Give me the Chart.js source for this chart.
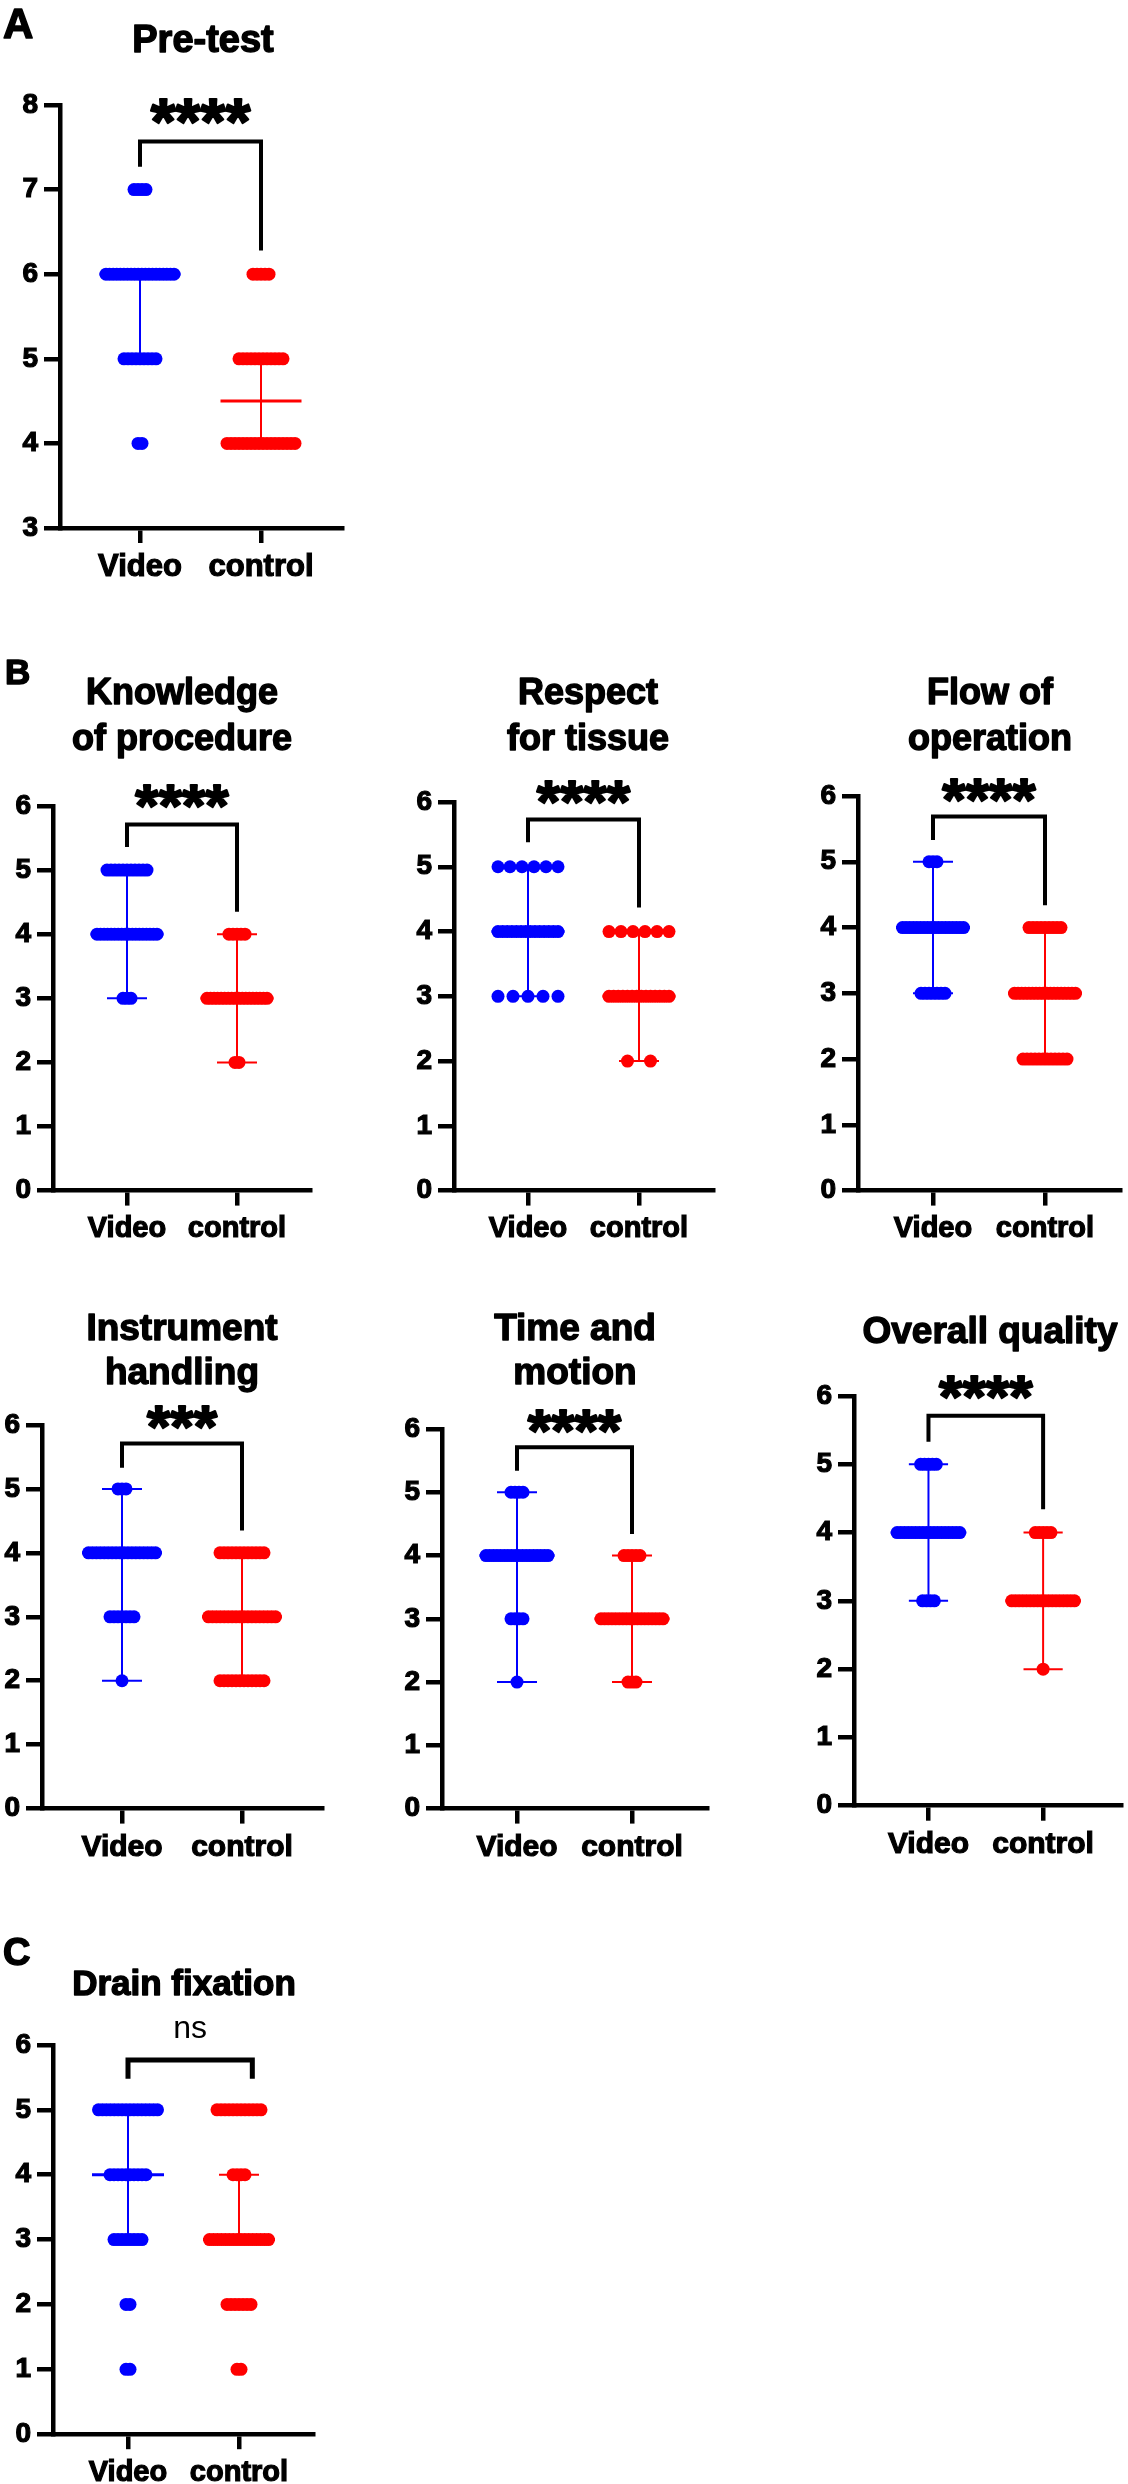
<!DOCTYPE html>
<html>
<head>
<meta charset="utf-8">
<script src="https://cdn.jsdelivr.net/npm/chart.js@4.4.0/dist/chart.umd.min.js"></script>
<style>
  html, body { margin: 0; padding: 0; background: #fff; }
  body { position: relative; width: 1128px; height: 2484px; overflow: hidden; }
  canvas { position: absolute; }
</style>
</head>
<body>
<script>
const categories = ['Video', 'control'];

// number of participants at each score (array index = score)
const preTestVideo        = [0, 0, 0, 0, 2, 9, 20, 4, 0];
const preTestControl      = [0, 0, 0, 0, 18, 12, 5, 0, 0];
const knowledgeVideo      = [0, 0, 0, 3, 18, 11, 0];
const knowledgeControl    = [0, 0, 2, 18, 5, 0, 0];
const respectVideo        = [0, 0, 0, 5, 14, 6, 0];
const respectControl      = [0, 0, 2, 14, 6, 0, 0];
const flowVideo           = [0, 0, 0, 7, 18, 3, 0];
const flowControl         = [0, 0, 12, 18, 9, 0, 0];
const instrumentVideo     = [0, 0, 1, 7, 18, 3, 0];
const instrumentControl   = [0, 0, 12, 18, 12, 0, 0];
const timeMotionVideo     = [0, 0, 1, 4, 18, 4, 0];
const timeMotionControl   = [0, 0, 3, 18, 5, 0, 0];
const overallVideo        = [0, 0, 0, 4, 18, 5, 0];
const overallControl      = [0, 0, 1, 18, 5, 0, 0];
const drainVideo          = [0, 2, 2, 8, 10, 16, 0];
const drainControl        = [0, 2, 7, 16, 4, 12, 0];

// [lower quartile, median, upper quartile]
const preTestVideoStats      = [5, 6, 6];
const preTestControlStats    = [4, 4.5, 5];
const knowledgeVideoStats    = [3, 4, 5];
const knowledgeControlStats  = [2, 3, 4];
const respectVideoStats      = [3, 4, 5];
const respectControlStats    = [2, 3, 4];
const flowVideoStats         = [3, 4, 5];
const flowControlStats       = [2, 3, 4];
const instrumentVideoStats   = [2, 4, 5];
const instrumentControlStats = [2, 3, 4];
const timeMotionVideoStats   = [2, 4, 5];
const timeMotionControlStats = [2, 3, 4];
const overallVideoStats      = [3, 4, 5];
const overallControlStats    = [2, 3, 4];
const drainVideoStats        = [3, 4, 5];
const drainControlStats      = [3, 3, 4];

const FONT = "'Liberation Sans', Arial, Helvetica, sans-serif";
const BLUE = '#0000ff';
const RED = '#ff0000';
const DOT_R = 6.5;
const AXIS_W = 4.5;

// page layout of every panel (pixels), bracket heights in score units
const panels = [
  { box: [0, 0, 380, 600], axisX: 60, axisRight: 342, yTop: 105, yBot: 528, cats: [140, 261],
    yMin: 3, yMax: 8, rowWidth: 81, step: 4, labelSize: 31,
    letter: { text: 'A', x: 3, y: 38, size: 42 },
    title: ['Pre-test'], titleX: 203, titleY: [52], titleSize: 38,
    video: preTestVideo, control: preTestControl, videoStats: preTestVideoStats, controlStats: preTestControlStats,
    sig: '****', sigSize: 64, sigGap: 30, bracket: [7.57, 7.27, 6.28], bracketX: [0, 1], bracketW: 4 },
  { box: [0, 620, 370, 640], axisX: 53, axisRight: 310, yTop: 806, yBot: 1190.6, cats: [127, 237],
    yMin: 0, yMax: 6, rowWidth: 73, step: 4, labelSize: 29,
    letter: { text: 'B', x: 5, y: 684, size: 35 },
    title: ['Knowledge', 'of procedure'], titleX: 182, titleY: [704, 750], titleSize: 36,
    video: knowledgeVideo, control: knowledgeControl, videoStats: knowledgeVideoStats, controlStats: knowledgeControlStats,
    sig: '****', sigSize: 60, sigGap: 28, bracket: [5.71, 5.36, 4.35], bracketX: [0, 1], bracketW: 4 },
  { box: [380, 620, 360, 640], axisX: 454, axisRight: 713, yTop: 802, yBot: 1190.6, cats: [528, 639],
    yMin: 0, yMax: 6, rowWidth: 73, step: 23, labelSize: 29,
    title: ['Respect', 'for tissue'], titleX: 588, titleY: [704, 750], titleSize: 36,
    video: respectVideo, control: respectControl, videoStats: respectVideoStats, controlStats: respectControlStats,
    sig: '****', sigSize: 60, sigGap: 27, bracket: [5.73, 5.38, 4.37], bracketX: [0, 1], bracketW: 4 },
  { box: [750, 620, 378, 640], axisX: 858, axisRight: 1120, yTop: 796, yBot: 1190.6, cats: [933, 1045],
    yMin: 0, yMax: 6, rowWidth: 74, step: 4, labelSize: 29,
    title: ['Flow of', 'operation'], titleX: 990, titleY: [704, 750], titleSize: 36,
    video: flowVideo, control: flowControl, videoStats: flowVideoStats, controlStats: flowControlStats,
    sig: '****', sigSize: 60, sigGap: 26, bracket: [5.69, 5.33, 4.34], bracketX: [0, 1], bracketW: 4 },
  { box: [-10, 1270, 360, 620], axisX: 42, axisRight: 322, yTop: 1425, yBot: 1808.6, cats: [122, 242],
    yMin: 0, yMax: 6, rowWidth: 80, step: 4, labelSize: 30,
    title: ['Instrument', 'handling'], titleX: 182, titleY: [1340, 1384], titleSize: 37,
    video: instrumentVideo, control: instrumentControl, videoStats: instrumentVideoStats, controlStats: instrumentControlStats,
    sig: '***', sigSize: 60, sigGap: 26, bracket: [5.71, 5.33, 4.35], bracketX: [0, 1], bracketW: 4 },
  { box: [370, 1270, 370, 620], axisX: 442, axisRight: 707, yTop: 1429, yBot: 1808.6, cats: [517, 632],
    yMin: 0, yMax: 6, rowWidth: 75, step: 4, labelSize: 30,
    title: ['Time and', 'motion'], titleX: 575, titleY: [1340, 1384], titleSize: 37,
    video: timeMotionVideo, control: timeMotionControl, videoStats: timeMotionVideoStats, controlStats: timeMotionControlStats,
    sig: '****', sigSize: 60, sigGap: 26, bracket: [5.71, 5.34, 4.34], bracketX: [0, 1], bracketW: 4 },
  { box: [750, 1270, 378, 620], axisX: 854, axisRight: 1127, yTop: 1396, yBot: 1805.7, cats: [930, 1047],
    yMin: 0, yMax: 6, rowWidth: 77, step: 4, labelSize: 30,
    title: ['Overall quality'], titleX: 990, titleY: [1343], titleSize: 37,
    video: overallVideo, control: overallControl, videoStats: overallVideoStats, controlStats: overallControlStats,
    sig: '****', sigSize: 60, sigGap: 28, bracket: [5.71, 5.33, 4.34], bracketX: [0, 1], bracketW: 4 },
  { box: [0, 1900, 360, 584], axisX: 53, axisRight: 313, yTop: 2045, yBot: 2434.2, cats: [128, 239],
    yMin: 0, yMax: 6, rowWidth: 72, step: 4, labelSize: 29,
    letter: { text: 'C', x: 3, y: 1965, size: 38 },
    title: ['Drain fixation'], titleX: 184, titleY: [1995], titleSize: 35,
    video: drainVideo, control: drainControl, videoStats: drainVideoStats, controlStats: drainControlStats,
    sig: 'ns', sigSize: 32, sigGap: 30, bracket: [5.77, 5.48, 5.48], bracketX: [0, 1.12], bracketW: 5 }
];

// spread the dots of one score side by side, like a scatter dot plot
function dotData(counts, cat, p) {
  const ppu = p.cats[1] - p.cats[0];
  const maxSpan = p.rowWidth - 2 * DOT_R;
  const pts = [];
  counts.forEach((n, score) => {
    if (!n) return;
    const span = Math.min((n - 1) * p.step, maxSpan);
    for (let k = 0; k < n; k++) {
      const off = n > 1 ? -span / 2 + k * span / (n - 1) : 0;
      pts.push({ x: cat + off / ppu, y: score });
    }
  });
  return pts;
}

function lineSet(pts, color, width, order) {
  return {
    data: pts, showLine: true, borderColor: color, borderWidth: width, pointRadius: 0,
    tension: 0, order: order, clip: false, borderCapStyle: 'butt', borderJoinStyle: 'miter'
  };
}

// median line + interquartile whisker with caps
function rangeSets(stats, cat, color, p) {
  const ppu = p.cats[1] - p.cats[0];
  const capHalf = 20 / ppu;
  const medHalf = p.rowWidth / 2 / ppu;
  const [lo, med, hi] = stats;
  return [
    lineSet([{ x: cat, y: lo }, { x: cat, y: hi }], color, 2, 1),
    lineSet([{ x: cat - capHalf, y: lo }, { x: cat + capHalf, y: lo }], color, 2, 1),
    lineSet([{ x: cat - capHalf, y: hi }, { x: cat + capHalf, y: hi }], color, 2, 1),
    lineSet([{ x: cat - medHalf, y: med }, { x: cat + medHalf, y: med }], color, 3, 1)
  ];
}

// heavy text: fill plus a thin stroke of the same colour
function heavyText(ctx, text, x, y, stroke) {
  if (stroke) {
    ctx.lineWidth = stroke;
    ctx.lineJoin = 'round';
    ctx.strokeText(text, x, y);
  }
  ctx.fillText(text, x, y);
}

function textPlugin(p) {
  return {
    id: 'panelText',
    afterDraw(chart) {
      const ctx = chart.ctx;
      const ox = p.box[0], oy = p.box[1];
      ctx.save();
      ctx.fillStyle = '#000';
      ctx.strokeStyle = '#000';
      ctx.textBaseline = 'alphabetic';
      if (p.letter) {
        ctx.textAlign = 'left';
        ctx.font = `bold ${p.letter.size}px ${FONT}`;
        heavyText(ctx, p.letter.text, p.letter.x - ox, p.letter.y - oy, 1.5);
      }
      ctx.textAlign = 'center';
      ctx.font = `bold ${p.titleSize}px ${FONT}`;
      p.title.forEach((line, i) => heavyText(ctx, line, p.titleX - ox, p.titleY[i] - oy, 1.4));

      // significance text sits above the bracket
      const xs = chart.scales.x, ys = chart.scales.y;
      const cx = (xs.getPixelForValue(p.bracketX[0]) + xs.getPixelForValue(p.bracketX[1])) / 2;
      const cy = ys.getPixelForValue(p.bracket[0]) - p.sigGap;
      const isNs = p.sig === 'ns';
      ctx.font = isNs ? `${p.sigSize}px ${FONT}` : `bold ${p.sigSize}px ${FONT}`;
      const m = ctx.measureText(p.sig);
      heavyText(ctx, p.sig, cx, cy + (m.actualBoundingBoxAscent - m.actualBoundingBoxDescent) / 2, isNs ? 0 : 2);
      ctx.restore();
    }
  };
}

function buildPanel(p) {
  const [L, T, W, H] = p.box;
  const canvas = document.createElement('canvas');
  canvas.width = W;
  canvas.height = H;
  canvas.style.left = L + 'px';
  canvas.style.top = T + 'px';
  canvas.style.width = W + 'px';
  canvas.style.height = H + 'px';
  document.body.appendChild(canvas);

  const ppu = p.cats[1] - p.cats[0];
  const xMin = -(p.cats[0] - p.axisX) / ppu;
  const xMax = (p.axisRight - p.cats[0]) / ppu;
  const [bTop, bLeft, bRight] = p.bracket;
  const [bx0, bx1] = p.bracketX;

  const datasets = [
    lineSet([{ x: bx0, y: bLeft }, { x: bx0, y: bTop }, { x: bx1, y: bTop }, { x: bx1, y: bRight }], '#000', p.bracketW, 0),
    ...rangeSets(p.videoStats, 0, BLUE, p),
    ...rangeSets(p.controlStats, 1, RED, p),
    { data: dotData(p.video, 0, p), backgroundColor: BLUE, borderWidth: 0, pointRadius: DOT_R, order: 2, clip: false },
    { data: dotData(p.control, 1, p), backgroundColor: RED, borderWidth: 0, pointRadius: DOT_R, order: 2, clip: false }
  ];

  new Chart(canvas, {
    type: 'scatter',
    data: { datasets },
    options: {
      responsive: false,
      animation: false,
      events: [],
      layout: { padding: { left: 0, top: p.yTop - T, right: L + W - p.axisRight, bottom: 0 } },
      plugins: { legend: { display: false }, tooltip: { enabled: false } },
      scales: {
        x: {
          type: 'linear', min: xMin, max: xMax,
          afterBuildTicks: s => { s.ticks = [{ value: 0 }, { value: 1 }]; },
          afterFit: s => { s.height = T + H - p.yBot; },
          ticks: {
            autoSkip: false, maxRotation: 0, color: '#000', padding: 6,
            textStrokeColor: '#000', textStrokeWidth: 1.2,
            font: { family: FONT, size: p.labelSize, weight: 'bold' },
            callback: v => categories[v]
          },
          grid: { drawOnChartArea: false, drawTicks: true, tickLength: 15, lineWidth: AXIS_W, color: '#000' },
          border: { display: true, width: AXIS_W, color: '#000' }
        },
        y: {
          min: p.yMin, max: p.yMax,
          afterFit: s => { s.width = p.axisX - L; },
          ticks: {
            stepSize: 1, color: '#000', padding: 6,
            textStrokeColor: '#000', textStrokeWidth: 1.2,
            font: { family: FONT, size: 28, weight: 'bold' }
          },
          grid: { drawOnChartArea: false, drawTicks: true, tickLength: 16, lineWidth: AXIS_W, color: '#000' },
          border: { display: true, width: AXIS_W, color: '#000' }
        }
      }
    },
    plugins: [textPlugin(p)]
  });
}

panels.forEach(buildPanel);
</script>
</body>
</html>
